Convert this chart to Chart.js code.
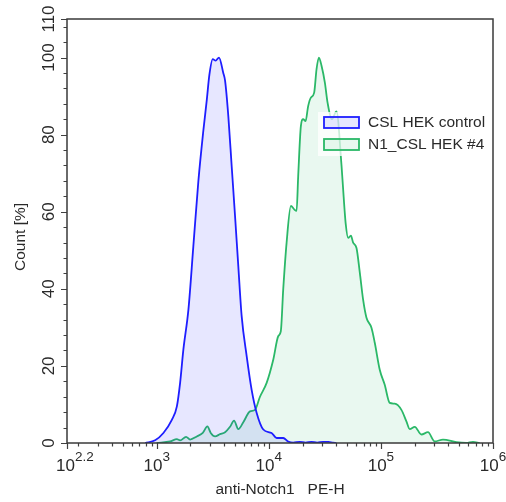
<!DOCTYPE html>
<html>
<head>
<meta charset="utf-8">
<script src="https://cdn.jsdelivr.net/npm/chart.js@4.4.1/dist/chart.umd.min.js"></script>
<style>
  html, body { margin: 0; padding: 0; background: #fff; }
  #wrap { width: 506px; height: 502px; }
</style>
</head>
<body>
<div id="wrap"><canvas id="histChart" width="506" height="502"></canvas></div>
<script>
// histogram values (x = PE-H intensity, y = count %)
const controlX = [789, 968, 1148, 1365, 1514, 1618, 1730, 1919, 2123, 2355, 2606, 2799, 2951, 3162, 3357, 3597, 3926, 4074, 4355, 4667, 5000, 5346, 5728, 6353, 7031, 7798, 8933, 10590, 11750, 13460, 14890, 16500, 18900, 21300, 24000, 27000, 30500, 34000, 37200, 40000];
const controlY = [0, 0.7, 2.6, 6, 9.5, 15.6, 24.2, 34.6, 51, 68, 81, 89, 95.5, 99.6, 99.2, 100, 96, 94, 84.8, 71.8, 58.9, 45.9, 32.9, 22.5, 13.8, 7.8, 3.5, 2.6, 1.3, 1.3, 0.4, 0.1, 0.3, 0.1, 0.3, 0.1, 0.3, 0.3, 0.1, 0];

const n1X = [1000, 1318, 1514, 1618, 1829, 1986, 2278, 2577, 2832, 3035, 3316, 3673, 4074, 4510, 4898, 5346, 5925, 6799, 7530, 8343, 9570, 10960, 12140, 12800, 13460, 14420, 15750, 16860, 17700, 18290, 19330, 20270, 21290, 22450, 23730, 25400, 26670, 27980, 29580, 31640, 33440, 36490, 40170, 44540, 46500, 48500, 51090, 53990, 56540, 60590, 64850, 69400, 74370, 82370, 88190, 97670, 108200, 119900, 132800, 152400, 168900, 180800, 200400, 229800, 263100, 301900, 357900, 471000, 578000, 662000, 759000];
const n1Y = [0, 0.4, 1.0, 0.7, 1.6, 0.9, 1.7, 2.6, 4.3, 2.6, 1.7, 2.3, 2.8, 4.2, 5.8, 3.6, 5.4, 8.2, 8.6, 12, 15.6, 21.6, 27.7, 29, 40, 52, 61.5, 60.6, 60.2, 69.2, 82.2, 84, 83.5, 87.4, 89.6, 90.9, 97, 100, 97.8, 93.5, 88.3, 84, 86, 72, 64, 57, 53.2, 53.8, 52, 50.6, 44.2, 37.2, 32.5, 29.9, 26, 19, 15.1, 10.4, 10.2, 8.6, 5.6, 3.6, 4.2, 2.2, 2.8, 0.4, 0.9, 0.2, 0, 0.3, 0];

const seriesNames = ['CSL HEK control', 'N1_CSL HEK #4'];
const xTickExp = ['2.2', '3', '4', '5', '6'];
const yTicks = [0, 20, 40, 60, 80, 100, 110];
const xTitle = 'anti-Notch1   PE-H';
const yTitle = 'Count [%]';

const FONT = '"Liberation Sans", Arial, sans-serif';
const TEXT = '#2a2a2a';

function points(xs, ys) {
    return xs.map((v, i) => ({ x: v, y: ys[i] }));
}

// frame, ticks, labels and legend drawn by hand (superscripts, rotated labels)
const flowAxes = {
    id: 'flowAxes',
    afterDatasetsDraw(chart) {
        const { ctx, chartArea: a, scales } = chart;
        const x = scales.x, y = scales.y;
        ctx.save();

        // y ticks
        ctx.strokeStyle = '#404040';
        ctx.lineWidth = 1.2;
        ctx.beginPath();
        for (let v = 0; v <= y.max; v += 4) {
            const py = Math.round(y.getPixelForValue(v)) + 0.5;
            const len = yTicks.includes(v) ? 6 : 3.5;
            ctx.moveTo(a.left - len, py);
            ctx.lineTo(a.left, py);
        }
        yTicks.forEach(v => {
            const py = Math.round(y.getPixelForValue(v)) + 0.5;
            ctx.moveTo(a.left - 6, py);
            ctx.lineTo(a.left, py);
        });
        // x ticks
        for (let d = 2; d <= 5; d++) {
            for (let m = 2; m <= 9; m++) {
                const v = m * Math.pow(10, d);
                if (v < x.min || v > x.max) continue;
                const px = Math.round(x.getPixelForValue(v)) + 0.5;
                ctx.moveTo(px, a.bottom);
                ctx.lineTo(px, a.bottom + 3.5);
            }
        }
        xTickExp.forEach(e => {
            const px = Math.round(x.getPixelForValue(Math.pow(10, parseFloat(e)))) + 0.5;
            ctx.moveTo(px, a.bottom);
            ctx.lineTo(px, a.bottom + 6);
        });
        ctx.stroke();

        // frame
        ctx.lineWidth = 1.5;
        ctx.strokeStyle = '#3a3a3a';
        ctx.strokeRect(a.left, a.top, a.right - a.left, a.bottom - a.top);

        // y tick labels, rotated
        ctx.fillStyle = TEXT;
        ctx.font = '17px ' + FONT;
        ctx.textAlign = 'center';
        ctx.textBaseline = 'alphabetic';
        yTicks.forEach(v => {
            ctx.save();
            ctx.translate(a.left - 13.5, y.getPixelForValue(v));
            ctx.rotate(-Math.PI / 2);
            ctx.fillText(String(v), 0, 0);
            ctx.restore();
        });

        // x tick labels: 10 with superscript exponent
        ctx.textAlign = 'left';
        xTickExp.forEach((e, i) => {
            const px = x.getPixelForValue(Math.pow(10, parseFloat(e)));
            ctx.font = '17px ' + FONT;
            const wBase = ctx.measureText('10').width;
            ctx.font = '13.5px ' + FONT;
            const wExp = ctx.measureText(e).width;
            // first label sits a little right of its tick, as in the source plot
            const left = i === 0 ? px - 11 : px - (wBase + wExp) / 2;
            ctx.font = '17px ' + FONT;
            ctx.fillText('10', left, a.bottom + 28);
            ctx.font = '13.5px ' + FONT;
            ctx.fillText(e, left + wBase, a.bottom + 18);
        });

        // axis titles
        ctx.font = '15.5px ' + FONT;
        ctx.textAlign = 'center';
        ctx.textBaseline = 'middle';
        ctx.fillText(xTitle, (a.left + a.right) / 2, a.bottom + 47);
        ctx.save();
        ctx.translate(20.5, (a.top + a.bottom) / 2 + 6);
        ctx.rotate(-Math.PI / 2);
        ctx.fillText(yTitle, 0, 0);
        ctx.restore();

        // legend
        const lx = a.right - 175, ly = a.top + 93;
        ctx.fillStyle = 'rgba(255,255,255,0.75)';
        ctx.fillRect(lx, ly, 172, 44);
        ctx.textAlign = 'left';
        chart.data.datasets.forEach((ds, i) => {
            const cy = ly + 10 + i * 22;
            ctx.fillStyle = ds.backgroundColor;
            ctx.fillRect(lx + 6, cy - 5, 35, 11);
            ctx.strokeStyle = ds.borderColor;
            ctx.lineWidth = 1.8;
            ctx.strokeRect(lx + 6, cy - 5, 35, 11);
            ctx.fillStyle = TEXT;
            ctx.font = '15.5px ' + FONT;
            ctx.fillText(ds.label, lx + 50, cy + 1);
        });
        ctx.restore();
    }
};

new Chart(document.getElementById('histChart'), {
    type: 'line',
    data: {
        datasets: [
            {
                label: seriesNames[0],
                data: points(controlX, controlY),
                borderColor: '#1e1eff',
                backgroundColor: 'rgba(20,20,255,0.1)',
                borderWidth: 1.8,
                fill: 'origin',
                pointRadius: 0,
                cubicInterpolationMode: 'monotone'
            },
            {
                label: seriesNames[1],
                data: points(n1X, n1Y),
                borderColor: '#2bb868',
                backgroundColor: 'rgba(43,184,104,0.1)',
                borderWidth: 1.8,
                fill: 'origin',
                pointRadius: 0,
                cubicInterpolationMode: 'monotone'
            }
        ]
    },
    options: {
        responsive: false,
        animation: false,
        layout: { padding: { left: 67, right: 13, top: 19, bottom: 59 } },
        scales: {
            x: { type: 'logarithmic', min: Math.pow(10, 2.2), max: 1e6, display: false },
            y: { type: 'linear', min: 0, max: 110, display: false }
        },
        plugins: {
            legend: { display: false },
            tooltip: { enabled: false }
        }
    },
    plugins: [flowAxes]
});
</script>
</body>
</html>
